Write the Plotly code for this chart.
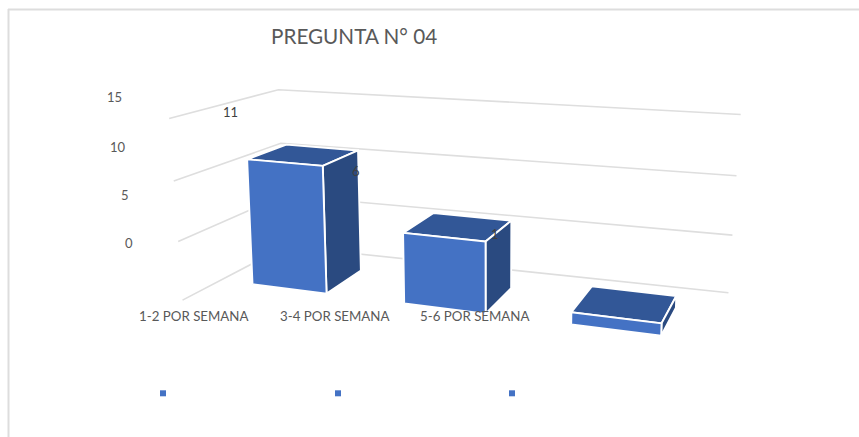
import numpy as np
import plotly.graph_objects as go

# ---- data ----
categories = ["1-2 POR SEMANA", "3-4 POR SEMANA", "5-6 POR SEMANA"]
values = [11, 6, 1]
value_ticks = [0, 5, 10, 15]
title_text = "PREGUNTA N° 04"

# ---- bar footprint inside each category cell / depth of the floor ----
BAR_X0, BAR_X1 = 0.17, 0.67
BAR_D0, BAR_D1 = 0.33, 0.76
N = len(categories)

# ---- camera calibration: (category pos, depth, value) -> page pixel ----
calib_walls = [
    ((0, 0, 15), (170, 118.3)), ((0, 1, 15), (277, 90)), ((3, 1, 15), (740.7, 114.3)),
    ((0, 0, 10), (174, 181)), ((0, 1, 10), (281, 143.5)), ((3, 1, 10), (736.7, 176)),
    ((0, 0, 5), (178, 241.7)), ((0, 1, 5), (284, 194.5)), ((3, 1, 5), (732.7, 235)),
    ((0, 0, 0), (181.7, 300)), ((0, 1, 0), (286, 246.8)), ((3, 1, 0), (728, 292.7)),
]
calib_bars = [
    ((BAR_X0, BAR_D0, 11), (248, 160)), ((BAR_X1, BAR_D0, 11), (321.7, 164)),
    ((BAR_X0, BAR_D0, 0), (253, 285)), ((BAR_X1, BAR_D0, 0), (325, 293)),
    ((BAR_X0, BAR_D1, 11), (286.7, 145)), ((BAR_X1, BAR_D1, 11), (356.7, 150.7)),
    ((BAR_X1, BAR_D1, 0), (360.7, 270.7)),
    ((1 + BAR_X0, BAR_D0, 6), (405, 233)), ((1 + BAR_X1, BAR_D0, 6), (485, 241.7)),
    ((1 + BAR_X0, BAR_D0, 0), (404, 304)), ((1 + BAR_X1, BAR_D0, 0), (485, 311.7)),
    ((1 + BAR_X0, BAR_D1, 6), (435, 213)), ((1 + BAR_X1, BAR_D1, 6), (510.7, 220.7)),
    ((1 + BAR_X1, BAR_D1, 0), (510.7, 287)),
    ((2 + BAR_X0, BAR_D0, 1), (572.3, 314.3)), ((2 + BAR_X1, BAR_D0, 1), (660.7, 325)),
    ((2 + BAR_X0, BAR_D0, 0), (572.3, 324.3)), ((2 + BAR_X1, BAR_D0, 0), (660.7, 334.3)),
    ((2 + BAR_X0, BAR_D1, 1), (593.3, 286.7)), ((2 + BAR_X1, BAR_D1, 1), (675.7, 296)),
]


def fit_camera(pairs):
    rows = []
    for (x, d, v), (u, w) in pairs:
        X = [x, d, v / 5.0, 1.0]
        u, w = u / 500.0, w / 500.0
        rows.append(X + [0, 0, 0, 0] + [-u * c for c in X])
        rows.append([0, 0, 0, 0] + X + [-w * c for c in X])
    _, _, vt = np.linalg.svd(np.array(rows))
    return vt[-1].reshape(3, 4)


P_WALL = fit_camera(calib_walls)
P_BAR = fit_camera(calib_bars)


def proj(P, x, d, v):
    h = P @ np.array([x, d, v / 5.0, 1.0])
    return float(h[0] / h[2] * 500.0), float(h[1] / h[2] * 500.0)


def poly(points):
    pts = [proj(P_BAR, *p) for p in points] + [proj(P_BAR, *points[0])]
    return [p[0] for p in pts], [p[1] for p in pts]


GRID = "#DEDEDE"
FRONT, TOP, SIDE = "#4472C4", "#325797", "#2A4A80"
TXT = "#595959"
FONT = "Lato"

fig = go.Figure()

# gridlines on side wall and back wall
for t in value_ticks:
    xs, ys = zip(*[proj(P_WALL, 0, 0, t), proj(P_WALL, 0, 1, t), proj(P_WALL, N, 1, t)])
    fig.add_trace(go.Scatter(x=xs, y=ys, mode="lines", line=dict(color=GRID, width=1.6),
                             hoverinfo="skip", showlegend=False))

# bars
for i, val in enumerate(values):
    x0, x1 = i + BAR_X0, i + BAR_X1
    faces = [
        (TOP, [(x0, BAR_D0, val), (x1, BAR_D0, val), (x1, BAR_D1, val), (x0, BAR_D1, val)]),
        (SIDE, [(x1, BAR_D0, 0), (x1, BAR_D1, 0), (x1, BAR_D1, val), (x1, BAR_D0, val)]),
        (FRONT, [(x0, BAR_D0, 0), (x1, BAR_D0, 0), (x1, BAR_D0, val), (x0, BAR_D0, val)]),
    ]
    for color, pts in faces:
        xs, ys = poly(pts)
        fig.add_trace(go.Scatter(x=xs, y=ys, mode="lines", fill="toself", fillcolor=color,
                                 line=dict(color="#FFFFFF", width=1.9),
                                 hoverinfo="skip", showlegend=False))

# legend keys (blank names in the original)
fig.add_trace(go.Scatter(x=[163, 338, 512], y=[393.3] * 3, mode="markers",
                         marker=dict(symbol="square", size=6, color=FRONT),
                         hoverinfo="skip", showlegend=False))


def label(text, x, y, size=13, color=TXT, anchor="center"):
    fig.add_annotation(x=x, y=y, xref="x", yref="y", text=text, showarrow=False,
                       xanchor=anchor, yanchor="middle",
                       font=dict(family=FONT, size=size, color=color))


label(title_text, 354, 36, size=20.7)
for t, (lx, ly) in zip(value_ticks, [(129, 243), (125, 195), (118, 147), (114, 97)]):
    label(str(t), lx, ly, size=13)
for c, lx in zip(categories, [194, 334.5, 475]):
    label(c, lx, 316, size=13.3)
for v, (lx, ly) in zip(values, [(230, 112), (356, 171), (495, 234)]):
    label(str(v), lx, ly, size=13, color="#404040")

fig.update_layout(
    width=859, height=437, margin=dict(l=0, r=0, t=0, b=0),
    paper_bgcolor="white", plot_bgcolor="white", showlegend=False,
    xaxis=dict(visible=False, range=[0, 859], fixedrange=True),
    yaxis=dict(visible=False, range=[437, 0], fixedrange=True),
    shapes=[
        dict(type="line", x0=8, x1=859, y0=9.5, y1=9.5, xref="x", yref="y",
             line=dict(color="#DDDDDD", width=2)),
        dict(type="line", x0=8.5, x1=8.5, y0=9, y1=437, xref="x", yref="y",
             line=dict(color="#DDDDDD", width=2)),
    ],
)

fig.write_html("out.html", config=dict(displayModeBar=False),
               post_script="document.body.style.margin='0';")
